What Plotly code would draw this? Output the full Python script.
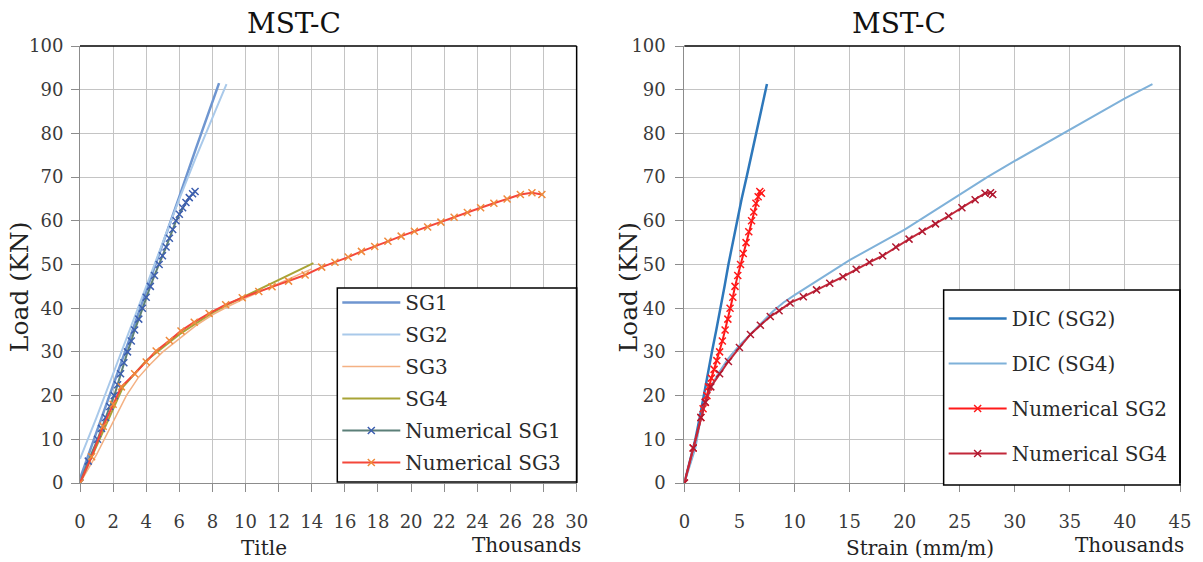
import plotly.graph_objects as go

# ---------------- data (thousands of microstrain, kN) ----------------
sg1_x = [0, 1, 2, 3, 4, 5, 6, 7, 8, 8.4]
sg1_y = [1, 11.5, 22.5, 33, 44, 54.5, 65.5, 76.5, 87, 91.5]

sg2_x = [0, 1, 2, 3, 4, 5, 6, 7, 8, 8.85]
sg2_y = [5.5, 15, 25, 35, 45, 55, 65, 74.5, 83.5, 91.3]

sg3_x = [0, 1, 2, 2.8, 3.5, 4.2, 5, 6, 7, 8, 9, 10, 11, 12, 13, 14]
sg3_y = [0, 6.5, 14, 20, 24, 27, 30, 33, 36, 38.5, 40.5, 42.3, 44, 45.7, 47.4, 49]

sg4_x = [0, 1, 2, 2.6, 3.3, 4, 5, 6, 7, 8, 9, 10, 11, 12, 13, 14.1]
sg4_y = [0, 8.5, 17, 22, 25, 28, 31, 34, 36.5, 39, 41, 42.8, 44.6, 46.4, 48.3, 50.3]

num_sg1_x = [0, 0.5, 1.06, 1.3, 1.55, 1.8, 2.07, 2.27, 2.45, 2.65, 2.87, 3.1, 3.3, 3.55,
             3.77, 4.0, 4.25, 4.5, 4.78, 4.98, 5.2, 5.4, 5.6, 5.8, 6.0, 6.2, 6.4, 6.6, 6.8, 6.95]
num_sg1_y = [0, 5, 10, 12.5, 15, 17.5, 20, 22.5, 25, 27.5, 30, 32.5, 35, 37.5,
             40, 42.5, 45, 47.5, 50, 52, 54, 56, 58, 60, 61.5, 63, 64.2, 65.3, 66.2, 66.7]

num_sg3_x = [0, 0.7, 1.4, 2.0, 2.5, 3.3, 4.0, 4.6, 5.4, 6.1, 6.9, 7.8, 8.8, 9.8, 10.8, 11.6,
             12.6, 13.6, 14.6, 15.4, 16.2, 17.0, 17.8, 18.6, 19.4, 20.2, 21.0, 21.8, 22.6,
             23.4, 24.2, 25.0, 25.8, 26.6, 27.3, 27.9]
num_sg3_y = [0, 6, 13, 18, 22, 25, 27.7, 30.2, 32.6, 34.8, 36.8, 38.8, 40.8, 42.4, 43.8, 44.9,
             46.2, 47.6, 49.4, 50.5, 51.7, 53.0, 54.1, 55.3, 56.5, 57.6, 58.6, 59.7, 60.8,
             61.9, 63.0, 64.0, 65.0, 66.0, 66.4, 66.0]

dic_sg2_x = [0, 0.5, 1.0, 1.4, 1.75, 2.1, 2.5, 2.9, 3.3, 3.65, 4.0, 4.38, 4.76, 5.2, 5.65,
             6.1, 6.55, 7.0, 7.5]
dic_sg2_y = [0, 5, 10, 15, 20, 25, 30, 35, 40, 45, 50, 55, 60, 65, 70, 75, 80, 85.5, 91.3]

dic_sg4_x = [0, 1, 1.5, 2, 2.5, 3.2, 4, 5, 6, 7, 8, 9, 10, 12.5, 15, 17.5, 20, 22.5,
             25, 27.5, 30, 32.5, 35, 37.5, 40, 42.5]
dic_sg4_y = [0, 8, 15, 19, 22.5, 25.5, 28.5, 31.5, 34, 36.5, 39.2, 41.3, 43, 47, 51,
             54.5, 58, 62, 66, 70, 73.7, 77.3, 80.8, 84.4, 88, 91.3]

num_sg2_x = [0, 0.8, 1.5, 1.7, 1.9, 2.05, 2.2, 2.45, 2.7, 2.95, 3.2, 3.45, 3.7, 3.95, 4.15,
             4.4, 4.6, 4.85, 5.1, 5.35, 5.6, 5.85, 6.1, 6.3, 6.5, 6.7, 6.85, 7.0]
num_sg2_y = [0, 8, 15, 17, 18.5, 20, 22, 24, 26, 28, 30, 32.5, 35, 37.5, 40,
             42.5, 45, 47.5, 50, 52.5, 55, 57.5, 60, 62, 64, 65.5, 66.7, 66.3]

num_sg4_x = [0, 0.8, 1.5, 1.9, 2.4, 3.2, 4.0, 5.0, 6.0, 6.9, 7.8, 8.6, 9.6, 10.8, 12.0, 13.2,
             14.4, 15.6, 16.8, 18.0, 19.2, 20.4, 21.6, 22.8, 24.0, 25.2, 26.4, 27.3, 27.8, 28.0]
num_sg4_y = [0, 8, 15, 18.5, 22, 25, 27.8, 31, 34, 36.1, 38.1, 39.4, 41.2, 42.6, 44.2, 45.7,
             47.2, 48.9, 50.5, 52, 54, 55.8, 57.6, 59.3, 61.1, 63, 64.8, 66.3, 66.4, 66]

x1_ticks = list(range(0, 31, 2))
x2_ticks = list(range(0, 46, 5))
y_ticks = list(range(0, 101, 10))

# ---------------- figure ----------------
FONT = "DejaVu Serif"
W, H = 1203, 562
ML, MR, MT, MB = 80, 20, 46, 79
PW = W - ML - MR
PH = H - MT - MB

def px_x(p):
    return (p - ML) / PW

def px_y(p):
    return (H - MB - p) / PH

fig = go.Figure()

def line_trace(x, y, name, color, width, xa, ya, legend, group, marker_color=None):
    kw = dict(x=x, y=y, name=name, xaxis=xa, yaxis=ya, legend=legend,
              legendgroup=group, line=dict(color=color, width=width))
    if marker_color:
        kw["mode"] = "lines+markers"
        kw["marker"] = dict(symbol="x-thin", size=7, line=dict(color=marker_color, width=1.5))
    else:
        kw["mode"] = "lines"
    return go.Scatter(**kw)

# left panel
fig.add_trace(line_trace(sg1_x, sg1_y, "SG1", "#6f96d0", 2.5, "x", "y", "legend", "a"))
fig.add_trace(line_trace(sg2_x, sg2_y, "SG2", "#a9c9ea", 2, "x", "y", "legend", "b"))
fig.add_trace(line_trace(sg3_x, sg3_y, "SG3", "#f4b183", 1.5, "x", "y", "legend", "c"))
fig.add_trace(line_trace(sg4_x, sg4_y, "SG4", "#a8a436", 2, "x", "y", "legend", "d"))
fig.add_trace(line_trace(num_sg1_x, num_sg1_y, "Numerical SG1", "#5b7f78", 2, "x", "y",
                         "legend", "e", marker_color="#3d5fb0"))
fig.add_trace(line_trace(num_sg3_x, num_sg3_y, "Numerical SG3", "#f4473a", 2, "x", "y",
                         "legend", "f", marker_color="#ef8a3c"))

# right panel
fig.add_trace(line_trace(dic_sg2_x, dic_sg2_y, "DIC (SG2)", "#2e78bb", 2.5, "x2", "y2", "legend2", "g"))
fig.add_trace(line_trace(dic_sg4_x, dic_sg4_y, "DIC (SG4)", "#7fb1d9", 2, "x2", "y2", "legend2", "h"))
fig.add_trace(line_trace(num_sg2_x, num_sg2_y, "Numerical SG2", "#ff1a1a", 2, "x2", "y2",
                         "legend2", "i", marker_color="#ff1a1a"))
fig.add_trace(line_trace(num_sg4_x, num_sg4_y, "Numerical SG4", "#c2283a", 2, "x2", "y2",
                         "legend2", "j", marker_color="#b01830"))

x1_dom = [0, px_x(578)]
x2_dom = [px_x(686), 1]

axis_common = dict(
    showgrid=True, gridcolor="#c4c4c4", gridwidth=1,
    showline=True, linecolor="#8c8c8c", linewidth=1,
    ticks="outside", ticklen=8, tickcolor="#8c8c8c", tickwidth=1,
    tickfont=dict(family=FONT, size=18, color="#3a3a3a"),
    zeroline=False, fixedrange=True,
)

fig.update_layout(
    width=W, height=H,
    margin=dict(l=ML, r=MR, t=MT, b=MB),
    paper_bgcolor="white", plot_bgcolor="white",
    xaxis=dict(domain=x1_dom, range=[0, 30], tickvals=x1_ticks, anchor="y",
               ticklabelstandoff=14, **axis_common),
    yaxis=dict(domain=[0, 1], range=[0, 100], tickvals=y_ticks, anchor="x",
               ticklabelstandoff=4, **axis_common),
    xaxis2=dict(domain=x2_dom, range=[0, 45], tickvals=x2_ticks, anchor="y2",
                ticklabelstandoff=14, **axis_common),
    yaxis2=dict(domain=[0, 1], range=[0, 100], tickvals=y_ticks, anchor="x2",
                ticklabelstandoff=6, **axis_common),
    legend=dict(x=px_x(338), y=px_y(283), xanchor="left", yanchor="top",
                bgcolor="rgba(0,0,0,0)", borderwidth=0,
                font=dict(family=FONT, size=20, color="#2a2a2a"),
                tracegroupgap=3, itemwidth=58),
    legend2=dict(x=px_x(946), y=px_y(299), xanchor="left", yanchor="top",
                 bgcolor="rgba(0,0,0,0)", borderwidth=0,
                 font=dict(family=FONT, size=20, color="#2a2a2a"),
                 tracegroupgap=16, itemwidth=58),
    showlegend=True,
)

# legend boxes (white fill, black border) drawn beneath the legends
for (l, t, r, b) in ((338, 288, 578, 482), (946, 290, 1183, 485)):
    fig.add_shape(type="rect", xref="paper", yref="paper",
                  x0=px_x(l), x1=px_x(r), y0=px_y(b), y1=px_y(t),
                  fillcolor="white", line=dict(color="black", width=1.5), layer="above")

# black top/right frame lines
for dom in (x1_dom, x2_dom):
    fig.add_shape(type="line", xref="paper", yref="paper", x0=dom[0], x1=dom[1], y0=1, y1=1,
                  line=dict(color="black", width=1.5))
    fig.add_shape(type="line", xref="paper", yref="paper", x0=dom[1], x1=dom[1], y0=0, y1=1,
                  line=dict(color="black", width=1.5))

def ann(text, xp, yp, size, angle=0, color="#222222"):
    fig.add_annotation(text=text, xref="paper", yref="paper", x=px_x(xp), y=px_y(yp),
                       xanchor="center", yanchor="middle", showarrow=False, textangle=angle,
                       font=dict(family=FONT, size=size, color=color))

ann("MST-C", 295, 24, 28, color="#111111")
ann("MST-C", 901, 24, 28, color="#111111")
ann("Title", 265, 548, 20)
ann("Thousands", 528, 545, 20)
ann("Strain (mm/m)", 922, 548, 20)
ann("Thousands", 1132, 545, 20)
ann("Load (KN)", 19, 287, 25, angle=-90)
ann("Load (KN)", 629, 287, 25, angle=-90)

fig.write_html(
    "out.html",
    config={"displayModeBar": False},
    post_script="document.body.style.margin='0';document.body.style.overflow='hidden';",
)
